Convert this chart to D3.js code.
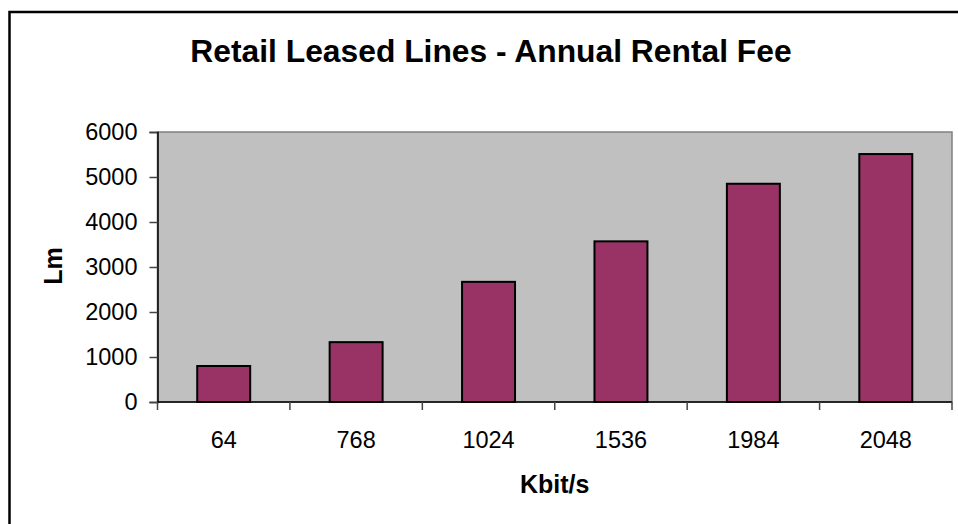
<!DOCTYPE html>
<html lang="en">
<head>
  <meta charset="UTF-8" />
  <title>Retail Leased Lines - Annual Rental Fee</title>
  <script src="https://d3js.org/d3.v7.min.js"></script>
  <style>
    body {
      margin: 0;
      background: #ffffff;
      font-family: 'Liberation Sans', Arial, sans-serif;
    }
    svg text {
      fill: #000;
    }
  </style>
</head>
<body>
  <svg id="chart" width="958" height="524"></svg>

  <script>
    // data
    const speeds = ["64", "768", "1024", "1536", "1984", "2048"];
    const fees = [800, 1330, 2670, 3570, 4850, 5510];
    const yTicks = [0, 1000, 2000, 3000, 4000, 5000, 6000];

    const svg = d3.select("#chart");

    const plot = { left: 157.5, right: 952, top: 132, bottom: 402 };

    // outer chart frame (runs off the right and bottom edges)
    svg.append("rect")
      .attr("x", 9.5).attr("y", 12)
      .attr("width", 1000).attr("height", 600)
      .attr("fill", "#fff")
      .attr("stroke", "#000")
      .attr("stroke-width", 2.5);

    const x = d3.scaleBand()
      .domain(speeds)
      .range([plot.left, plot.right])
      .paddingInner(0.6)
      .paddingOuter(0.3);

    const y = d3.scaleLinear()
      .domain([0, 6000])
      .range([plot.bottom, plot.top]);

    // plot area
    svg.append("rect")
      .attr("x", plot.left).attr("y", plot.top)
      .attr("width", plot.right - plot.left)
      .attr("height", plot.bottom - plot.top)
      .attr("fill", "#c0c0c0")
      .attr("stroke", "#808080")
      .attr("stroke-width", 1.5);

    // bars
    svg.append("g")
      .selectAll("rect")
      .data(speeds)
      .join("rect")
        .attr("x", d => x(d))
        .attr("y", (d, i) => y(fees[i]))
        .attr("width", x.bandwidth())
        .attr("height", (d, i) => y(0) - y(fees[i]))
        .attr("fill", "#993366")
        .attr("stroke", "#000")
        .attr("stroke-width", 2);

    // y axis
    const yAxis = svg.append("g")
      .attr("transform", `translate(${plot.left},0)`)
      .call(d3.axisLeft(y).tickValues(yTicks).tickSize(8).tickPadding(12).tickFormat(d3.format("d")));
    yAxis.select(".domain").attr("stroke", "#000").attr("stroke-width", 1.5);
    yAxis.selectAll(".tick line").attr("stroke", "#444").attr("stroke-width", 1.5);
    yAxis.selectAll("text")
      .attr("font-family", "'Liberation Sans', Arial, sans-serif")
      .attr("font-size", 23.5)
      .attr("fill", "#000");

    // x axis: ticks sit between the categories
    const edges = d3.range(speeds.length + 1).map(i => plot.left + i * x.step());
    const xAxis = svg.append("g");
    xAxis.append("line")
      .attr("x1", plot.left).attr("x2", plot.right)
      .attr("y1", plot.bottom).attr("y2", plot.bottom)
      .attr("stroke", "#000").attr("stroke-width", 1.5);
    xAxis.selectAll("line.tick")
      .data(edges)
      .join("line")
        .attr("class", "tick")
        .attr("x1", d => d).attr("x2", d => d)
        .attr("y1", plot.bottom).attr("y2", plot.bottom + 8)
        .attr("stroke", "#444").attr("stroke-width", 1.5);
    xAxis.selectAll("text")
      .data(speeds)
      .join("text")
        .attr("x", d => x(d) + x.bandwidth() / 2)
        .attr("y", 448)
        .attr("text-anchor", "middle")
        .attr("font-size", 23.5)
        .text(d => d);

    // titles
    svg.append("text")
      .attr("x", 491).attr("y", 62)
      .attr("text-anchor", "middle")
      .attr("font-size", 31.8)
      .attr("font-weight", "bold")
      .text("Retail Leased Lines - Annual Rental Fee");

    svg.append("text")
      .attr("x", (plot.left + plot.right) / 2).attr("y", 493)
      .attr("text-anchor", "middle")
      .attr("font-size", 25)
      .attr("font-weight", "bold")
      .text("Kbit/s");

    svg.append("text")
      .attr("transform", `translate(62,${(plot.top + plot.bottom) / 2 - 1}) rotate(-90)`)
      .attr("text-anchor", "middle")
      .attr("font-size", 25)
      .attr("font-weight", "bold")
      .text("Lm");
  </script>
</body>
</html>
